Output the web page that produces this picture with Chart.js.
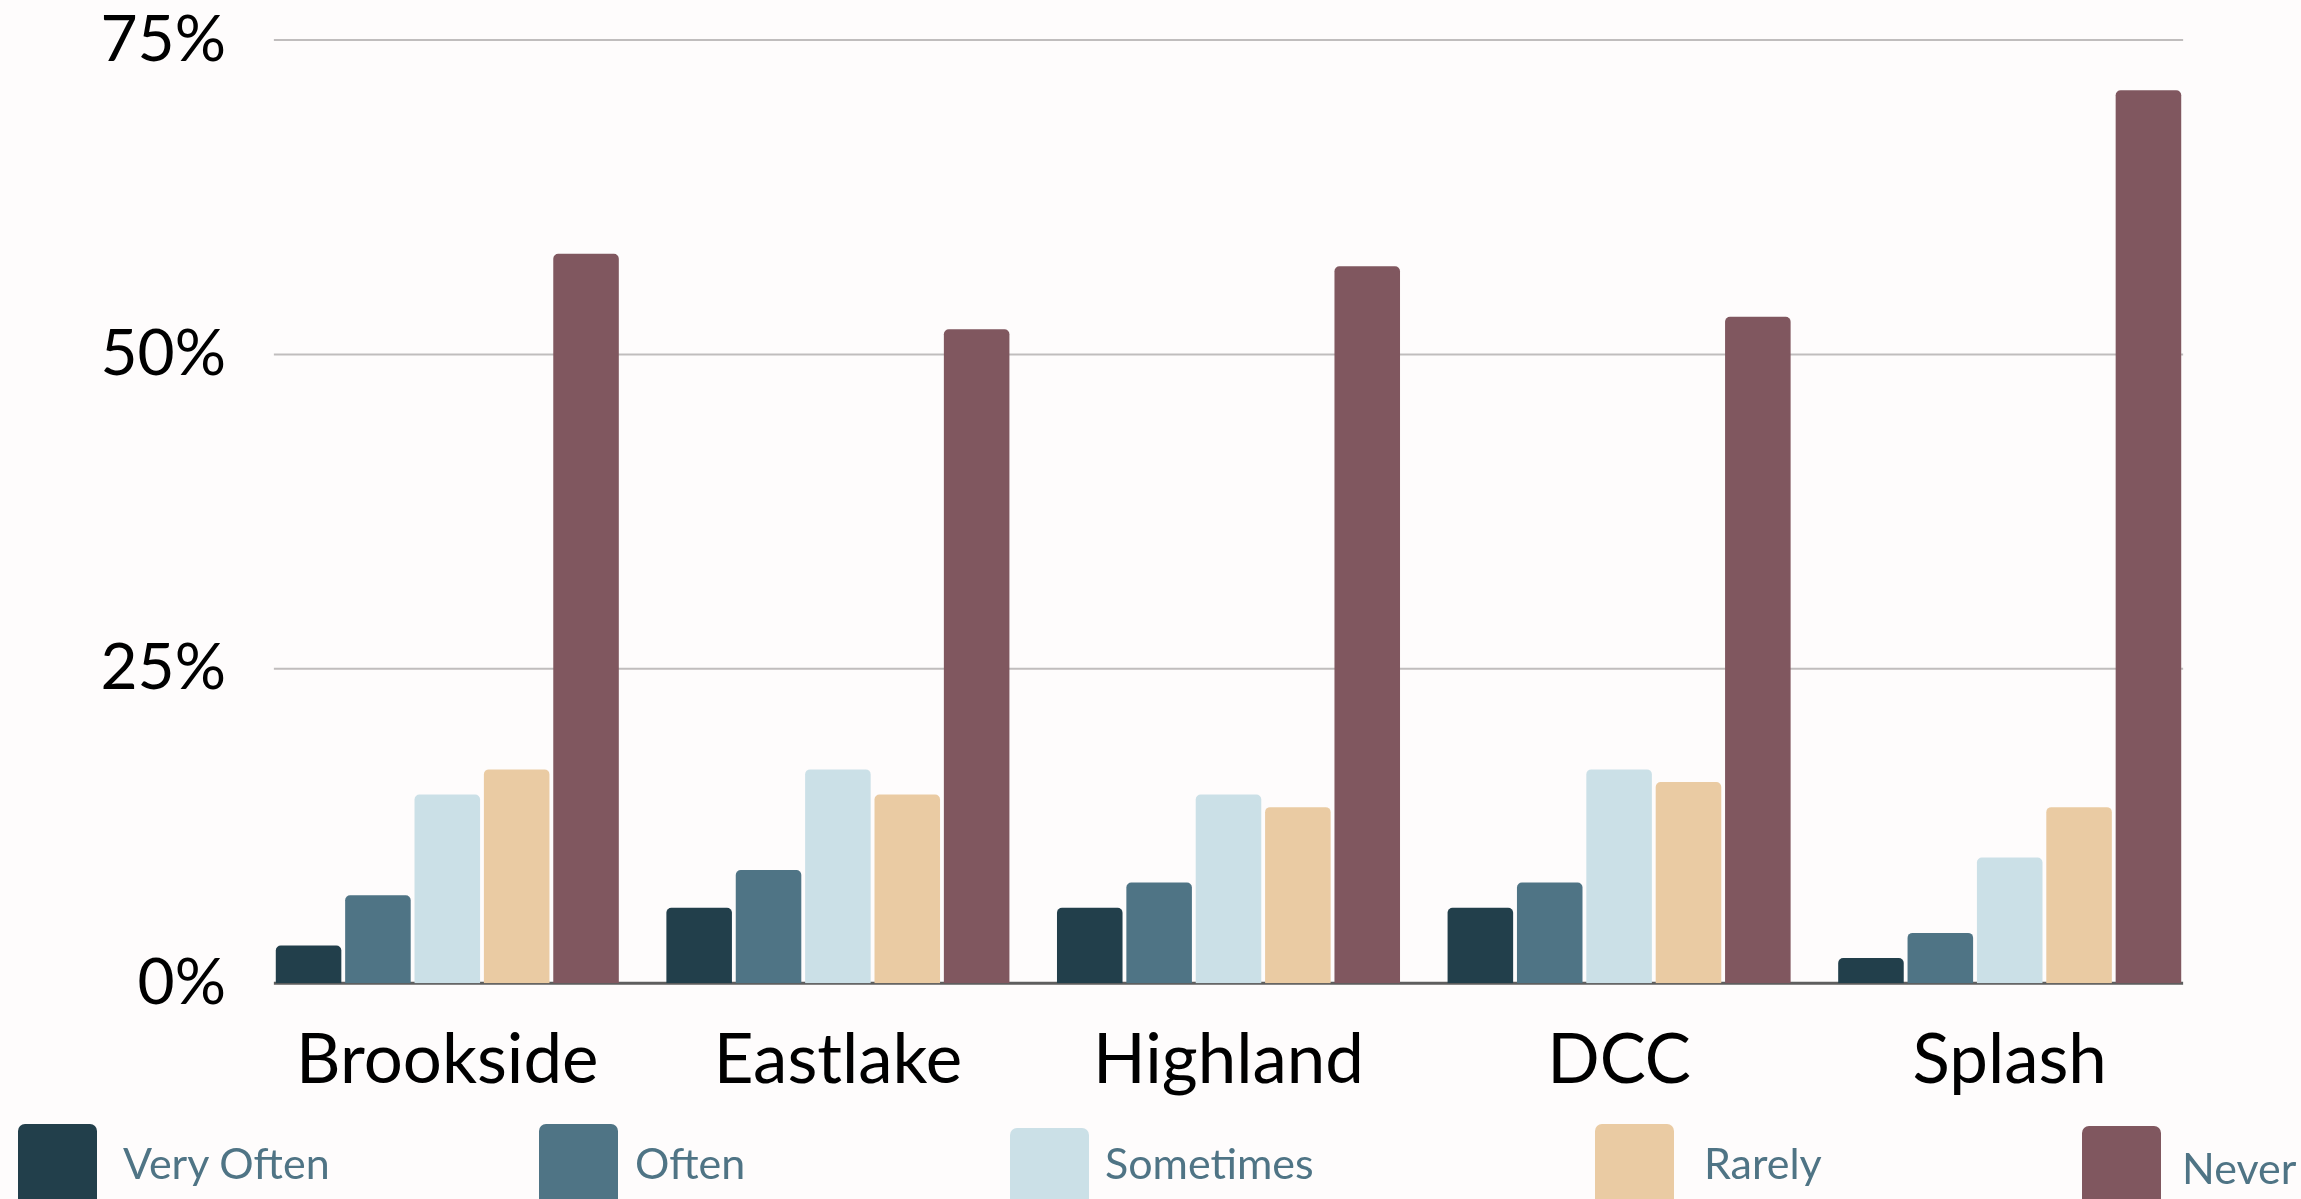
<!DOCTYPE html>
<html>
<head>
<meta charset="utf-8">
<script src="https://cdn.jsdelivr.net/npm/chart.js@4"></script>
<style>
  html, body { margin: 0; padding: 0; background: #fefcfc; }
  body { width: 2301px; height: 1199px; overflow: hidden; position: relative; font-family: Lato, sans-serif; }
  #chart { position: absolute; left: 0; top: 0; }
  .legend-box { position: absolute; width: 79px; height: 110px; border-radius: 7px 7px 0 0; }
  .legend-text { position: absolute; font-size: 43px; color: #4f7485; white-space: nowrap; line-height: 1; }
</style>
</head>
<body>
<canvas id="chart" width="2301" height="1199"></canvas>
<div id="legend"></div>
<script>
// Survey answers per pool, in percent
const pools = ['Brookside', 'Eastlake', 'Highland', 'DCC', 'Splash'];
const veryOften = [3, 6, 6, 6, 2];
const often = [7, 9, 8, 8, 4];
const sometimes = [15, 17, 15, 17, 10];
const rarely = [17, 15, 14, 16, 14];
const never = [58, 52, 57, 53, 71];
const yTicks = [0, 25, 50, 75];

const seriesNames = ['Very Often', 'Often', 'Sometimes', 'Rarely', 'Never'];
const seriesColors = ['#223f4b', '#4f7485', '#cbe0e7', '#eacba3', '#80575f'];
const seriesValues = [veryOften, often, sometimes, rarely, never];

const CAT_PCT = 0.888;

// horizontal grid + baseline, only as wide as the bar groups
const gridPlugin = {
    id: 'groupGrid',
    beforeDatasetsDraw(chart) {
        const ctx = chart.ctx;
        const x = chart.scales.x;
        const y = chart.scales.y;
        const catWidth = x.width / pools.length;
        const left = x.getPixelForValue(0) - catWidth * CAT_PCT / 2;
        const right = x.getPixelForValue(pools.length - 1) + catWidth * CAT_PCT / 2;
        ctx.save();
        yTicks.forEach((t) => {
            const py = y.getPixelForValue(t);
            ctx.beginPath();
            ctx.strokeStyle = t === 0 ? '#5e5e5e' : '#c0bdbd';
            ctx.lineWidth = t === 0 ? 3 : 2;
            ctx.moveTo(left, py);
            ctx.lineTo(right, py);
            ctx.stroke();
        });
        ctx.restore();
    }
};

const ctx = document.getElementById('chart').getContext('2d');
new Chart(ctx, {
    type: 'bar',
    data: {
        labels: pools,
        datasets: seriesNames.map((name, i) => ({
            label: name,
            data: seriesValues[i],
            backgroundColor: seriesColors[i],
            borderRadius: 5,
            borderSkipped: 'start',
            categoryPercentage: CAT_PCT,
            barPercentage: 0.945,
        })),
    },
    options: {
        responsive: false,
        animation: false,
        layout: { padding: { top: 40, right: 96, bottom: 61, left: 0 } },
        plugins: {
            legend: { display: false },
            tooltip: { enabled: false },
        },
        scales: {
            x: {
                grid: { display: false, drawTicks: false },
                border: { display: false },
                ticks: {
                    color: '#000',
                    font: { family: 'Lato', size: 69, lineHeight: 1.2 },
                    padding: 36,
                    maxRotation: 0,
                },
            },
            y: {
                min: 0,
                max: 75,
                afterFit: (scale) => { scale.width = 252; },
                afterBuildTicks: (scale) => { scale.ticks = yTicks.map((v) => ({ value: v })); },
                grid: { display: false, drawTicks: false },
                border: { display: false },
                ticks: {
                    color: '#000',
                    // small line height keeps the top label from pushing the plot down
                    font: { family: 'Lato', size: 64, lineHeight: 0.4 },
                    padding: 26,
                    callback: (v) => v + '%',
                },
            },
        },
    },
    plugins: [gridPlugin],
});

// legend laid out along the bottom edge
const legendPos = [
    { box: 18, top: 1124, text: 123 },
    { box: 539, top: 1124, text: 635 },
    { box: 1010, top: 1128, text: 1105 },
    { box: 1595, top: 1124, text: 1704 },
    { box: 2082, top: 1126, text: 2182 },
];
const legend = document.getElementById('legend');
seriesNames.forEach((name, i) => {
    const p = legendPos[i];
    const box = document.createElement('div');
    box.className = 'legend-box';
    box.style.left = p.box + 'px';
    box.style.top = p.top + 'px';
    box.style.background = seriesColors[i];
    legend.appendChild(box);
    const txt = document.createElement('div');
    txt.className = 'legend-text';
    txt.style.left = p.text + 'px';
    txt.style.top = (i === 4 ? 1146 : 1141) + 'px';
    txt.textContent = name;
    legend.appendChild(txt);
});
</script>
</body>
</html>
